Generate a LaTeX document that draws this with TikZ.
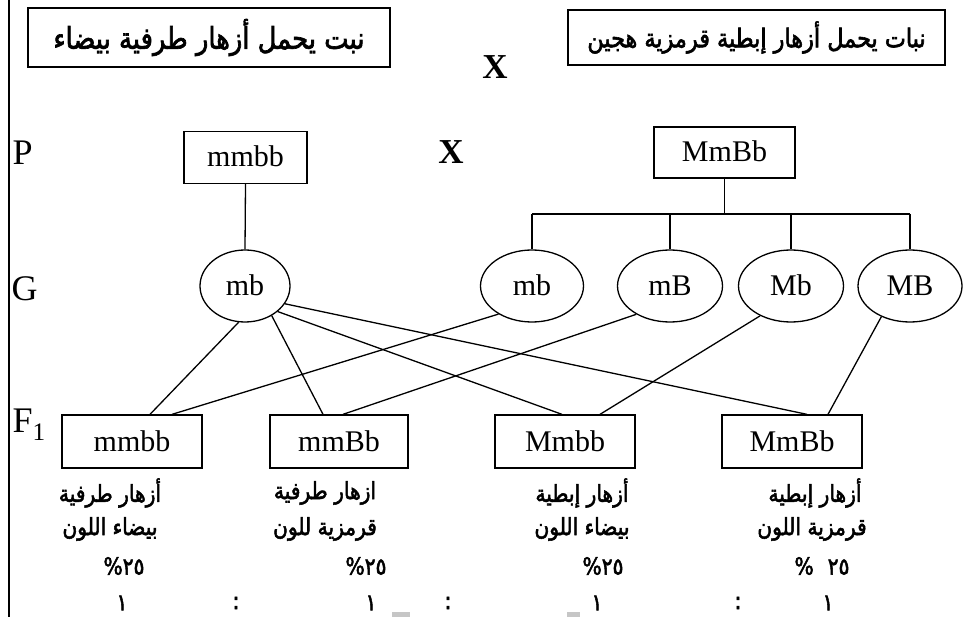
\documentclass[tikz,border=0pt]{standalone}
\usepackage{fontspec}
\setmainfont{Liberation Serif}
\newfontfamily\arabicfont[Script=Arabic,FakeBold=2.2,FakeStretch=0.86]{DejaVu Sans}
\TeXXeTstate=1
\usetikzlibrary{shapes.geometric}

% percentage written with the sign on the left
\newcommand\pctleft[2][0pt]{\hbox{\%}\hspace{#1}\hbox{#2}}

\tikzset{
  every path/.style={line width=1.2pt},
  gene/.style={font=\fontsize{30}{34}\selectfont, text height=19pt, text depth=0pt},
  geno/.style={gene, draw, rectangle, inner sep=0pt, line width=1.3pt},
  gamete/.style={gene, draw, ellipse, inner sep=0pt, minimum height=72pt, line width=1.3pt},
  rowlabel/.style={font=\fontsize{36}{40}\selectfont, anchor=west, inner sep=0pt},
  cross/.style={font=\bfseries\fontsize{35}{38}\selectfont, inner sep=0pt},
  title/.style={draw, rectangle, inner sep=0pt, line width=1.3pt},
  trait/.style={inner sep=0pt, font=\arabicfont\fontsize{23.5}{26}\selectfont},
  link/.style={line width=1.3pt},
}

\begin{document}
\begin{tikzpicture}[x=1pt,y=-1pt]
  \useasboundingbox (0,0) rectangle (966,617);

  % margin rule
  \draw[line width=2.2pt] (9,0) -- (9,617);

  % parent descriptions
  \node[title, minimum width=362pt, minimum height=59pt,
        font=\arabicfont\fontsize{30}{34}\selectfont] (tl) at (209,37.5)
    {\beginR نبت يحمل أزهار طرفية بيضاء\endR};
  \node[title, minimum width=377pt, minimum height=55pt,
        font=\arabicfont\fontsize{26}{30}\selectfont] (tr) at (756.5,37.5)
    {\beginR نبات يحمل أزهار  إبطية قرمزية هجين\endR};
  \node[cross] (xtop) at (495,67) {X};

  % row labels
  \node[rowlabel] (lp) at (12,153) {P};
  \node[rowlabel] (lg) at (11,289) {G};
  \node[rowlabel] (lf) at (12,425) {F\textsubscript{1}};

  % parents
  \node[geno, minimum width=123pt, minimum height=52pt] (pw) at (245.5,157.5) {mmbb};
  \node[cross] (xmid) at (451,152) {X};
  \node[geno, minimum width=141pt, minimum height=51pt] (pr) at (724.5,152.5) {MmBb};

  % gametes
  \node[gamete, minimum width=90pt] (g0) at (245,286) {mb};
  \node[gamete, minimum width=103pt] (g1) at (532,286) {mb};
  \node[gamete, minimum width=105pt] (g2) at (670,286) {mB};
  \node[gamete, minimum width=105pt] (g3) at (791,286) {Mb};
  \node[gamete, minimum width=104pt] (g4) at (910,286) {MB};

  % offspring
  \node[geno, minimum width=140pt, minimum height=53pt] (f1) at (132,441.5) {mmbb};
  \node[geno, minimum width=138pt, minimum height=53pt] (f2) at (339,441.5) {mmBb};
  \node[geno, minimum width=140pt, minimum height=53pt] (f3) at (565,441.5) {Mmbb};
  \node[geno, minimum width=140pt, minimum height=53pt] (f4) at (792,441.5) {MmBb};

  % parent to gametes
  \draw[link] (pw.south) -- (g0.north);
  \coordinate (bar) at (724.5,214);
  \draw[link] (pr.south) -- (bar);
  \draw[link] (g1.north |- bar) -- (g4.north |- bar);
  \foreach \g in {g1,g2,g3,g4}
    \draw[link] (\g.north |- bar) -- (\g.north);

  % fertilisation
  \draw[link] (g0.-100) -- ([xshift=18pt]f1.north);
  \draw[link] (g0.-48)  -- ([xshift=-16pt]f2.north);
  \draw[link] (g0.-38)  -- ([xshift=-3pt]f3.north);
  \draw[link] (g0.-24)  -- ([xshift=15pt]f4.north);
  \draw[link] (g1.-140) -- ([xshift=40pt]f1.north);
  \draw[link] (g2.-140) -- ([xshift=4pt]f2.north);
  \draw[link] (g3.-136) -- ([xshift=35pt]f3.north);
  \draw[link] (g4.-133) -- ([xshift=36pt]f4.north);

  % phenotypes
  \node[trait] (t1a) at (110,493) {\beginR أزهار طرفية\endR};
  \node[trait] (t1b) at (110,529) {\beginR بيضاء اللون\endR};
  \node[trait] (t1c) at (124,566) {\pctleft{٢٥}};
  \node[trait] (t2a) at (325,493) {\beginR ازهار طرفية\endR};
  \node[trait] (t2b) at (325,529) {\beginR قرمزية للون\endR};
  \node[trait] (t2c) at (366,566) {\pctleft{٢٥}};
  \node[trait] (t3a) at (582,493) {\beginR أزهار إبطية\endR};
  \node[trait] (t3b) at (582,529) {\beginR بيضاء اللون\endR};
  \node[trait] (t3c) at (603,566) {\pctleft{٢٥}};
  \node[trait] (t4a) at (815,493) {\beginR أزهار إبطية\endR};
  \node[trait] (t4b) at (812,529) {\beginR قرمزية اللون\endR};
  \node[trait] (t4c) at (822,566) {\pctleft[14pt]{٢٥}};

  % ratio
  \node[trait] (r1) at (122,603) {١};
  \node[trait] (c1) at (236,603) {:};
  \node[trait] (r2) at (371,603) {١};
  \node[trait] (c2) at (448,603) {:};
  \node[trait] (r3) at (597,603) {١};
  \node[trait] (c3) at (738,603) {:};
  \node[trait] (r4) at (828,603) {١};

  % clipped marks along the lower edge
  \fill[gray!45] (392,612) rectangle (410,617);
  \fill[gray!45] (567,612) rectangle (580,617);
\end{tikzpicture}
\end{document}
